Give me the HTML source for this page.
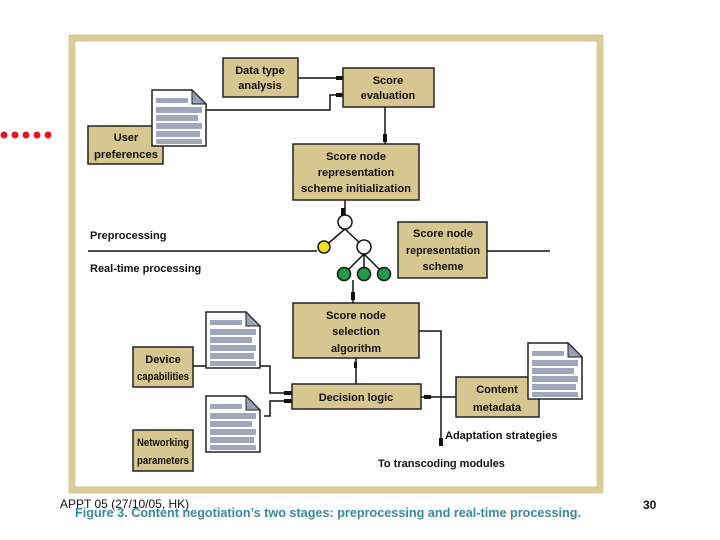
<!DOCTYPE html>
<html><head><style>
body{margin:0;width:720px;height:540px;background:#fff;overflow:hidden;position:relative;font-family:"Liberation Sans",sans-serif}
svg{position:absolute;left:0;top:0}
</style></head><body>
<svg width="720" height="540" viewBox="0 0 720 540" font-family="Liberation Sans, sans-serif">
<defs>
<g id="doc">
<path d="M0,0 H40 L54,14 V56 H0 Z" fill="#fff" stroke="#222" stroke-width="1.5"/>
<path d="M40,0 V14 H54 Z" fill="#9aa0b8" stroke="#222" stroke-width="1"/>
<rect x="4" y="8" width="32" height="5" fill="#a0a6bc"/>
<rect x="4" y="17" width="46" height="6" fill="#a0a6bc"/>
<rect x="4" y="25" width="42" height="6" fill="#a0a6bc"/>
<rect x="4" y="33" width="46" height="6" fill="#a0a6bc"/>
<rect x="4" y="41" width="44" height="6" fill="#a0a6bc"/>
<rect x="4" y="49" width="46" height="5" fill="#a0a6bc"/>
</g>
</defs>
<g fill="#e8141a"><circle cx="4" cy="135" r="3.5"/><circle cx="15" cy="135" r="3.5"/><circle cx="26" cy="135" r="3.5"/><circle cx="37" cy="135" r="3.5"/><circle cx="48" cy="135" r="3.5"/></g>
<rect x="72" y="38" width="528" height="452" fill="#fff" stroke="#d8cb98" stroke-width="7"/>
<g stroke="#111" stroke-width="1.5" fill="none">
<path d="M298,78 H343"/><path d="M205,110 H330 V95 H343"/>
<path d="M385,107 V144"/><path d="M345,200 V215"/>
<path d="M345,229 L324,247 M345,229 L364,247 M364,254 L344,274 M364,254 L364,274 M364,254 L384,274"/>
<path d="M88,251 H317 M487,251 H550"/>
<path d="M353,280 V303"/><path d="M356,358 V384"/>
<path d="M419,331 H441 V445"/>
<path d="M193,366 H270 V393 H292"/><path d="M264,416 H270 V401 H292"/>
<path d="M421,397 H456"/>
</g>
<g fill="#111"><rect x="341" y="208" width="4" height="8"/><rect x="383" y="134" width="4" height="8"/><rect x="336" y="76" width="7" height="4"/><rect x="336" y="93" width="7" height="4"/><rect x="351" y="292" width="4" height="8"/><rect x="354" y="362" width="3" height="6"/><rect x="284" y="391" width="8" height="4"/><rect x="284" y="399" width="8" height="4"/><rect x="424" y="395" width="7" height="4"/><rect x="439" y="438" width="4" height="8"/></g>
<circle cx="345" cy="222" r="7" fill="#fff" stroke="#111" stroke-width="1.5"/>
<circle cx="324" cy="247" r="6" fill="#f0e020" stroke="#111" stroke-width="1.5"/>
<circle cx="364" cy="247" r="7" fill="#fff" stroke="#111" stroke-width="1.5"/>
<circle cx="344" cy="274" r="6.5" fill="#1e9a48" stroke="#111" stroke-width="1.5"/>
<circle cx="364" cy="274" r="6.5" fill="#1e9a48" stroke="#111" stroke-width="1.5"/>
<circle cx="384" cy="274" r="6.5" fill="#1e9a48" stroke="#111" stroke-width="1.5"/>
<g fill="#d8c690" stroke="#222" stroke-width="1.5">
<rect x="223" y="58" width="75" height="39"/>
<rect x="343" y="68" width="91" height="39"/>
<rect x="88" y="126" width="75" height="38"/>
<rect x="293" y="144" width="126" height="56"/>
<rect x="398" y="222" width="89" height="56"/>
<rect x="293" y="303" width="126" height="55"/>
<rect x="133" y="347" width="60" height="40"/>
<rect x="292" y="384" width="129" height="25"/>
<rect x="133" y="430" width="60" height="41"/>
<rect x="456" y="377" width="83" height="40"/>
</g>
<use href="#doc" x="152" y="90"/>
<use href="#doc" x="206" y="312"/>
<use href="#doc" x="206" y="396"/>
<use href="#doc" x="528" y="343"/>
<g font-size="11" font-weight="bold" fill="#111" text-anchor="middle" lengthAdjust="spacingAndGlyphs">
<text x="260" y="74">Data type</text><text x="260" y="89">analysis</text>
<text x="388" y="84">Score</text><text x="388" y="99">evaluation</text>
<text x="126" y="141">User</text><text x="126" y="158" textLength="64" lengthAdjust="spacingAndGlyphs">preferences</text>
<text x="356" y="160">Score node</text><text x="356" y="176">representation</text><text x="356" y="192" textLength="110" lengthAdjust="spacingAndGlyphs">scheme initialization</text>
<text x="443" y="237">Score node</text><text x="443" y="254" textLength="74" lengthAdjust="spacingAndGlyphs">representation</text><text x="443" y="270">scheme</text>
<text x="356" y="319">Score node</text><text x="356" y="335">selection</text><text x="356" y="352">algorithm</text>
<text x="163" y="363">Device</text><text x="163" y="380" textLength="52" lengthAdjust="spacingAndGlyphs">capabilities</text>
<text x="356" y="401">Decision logic</text>
<text x="163" y="446" textLength="52" lengthAdjust="spacingAndGlyphs">Networking</text><text x="163" y="464" textLength="52" lengthAdjust="spacingAndGlyphs">parameters</text>
<text x="497" y="393">Content</text><text x="497" y="411">metadata</text>
</g>
<g font-size="11" font-weight="bold" fill="#111">
<text x="90" y="239">Preprocessing</text>
<text x="90" y="272">Real-time processing</text>
<text x="445" y="439">Adaptation strategies</text>
<text x="378" y="467">To transcoding modules</text>
</g>
<text x="75" y="517" font-size="13" font-weight="bold" fill="#3a8a96" textLength="506" lengthAdjust="spacingAndGlyphs">Figure 3. Content negotiation’s two stages: preprocessing and real-time processing.</text>
<text x="60" y="508" font-size="12" fill="#111">APPT 05 (27/10/05, HK)</text>
<text x="643" y="509" font-size="12" font-weight="bold" fill="#111">30</text>
</svg>
</body></html>
